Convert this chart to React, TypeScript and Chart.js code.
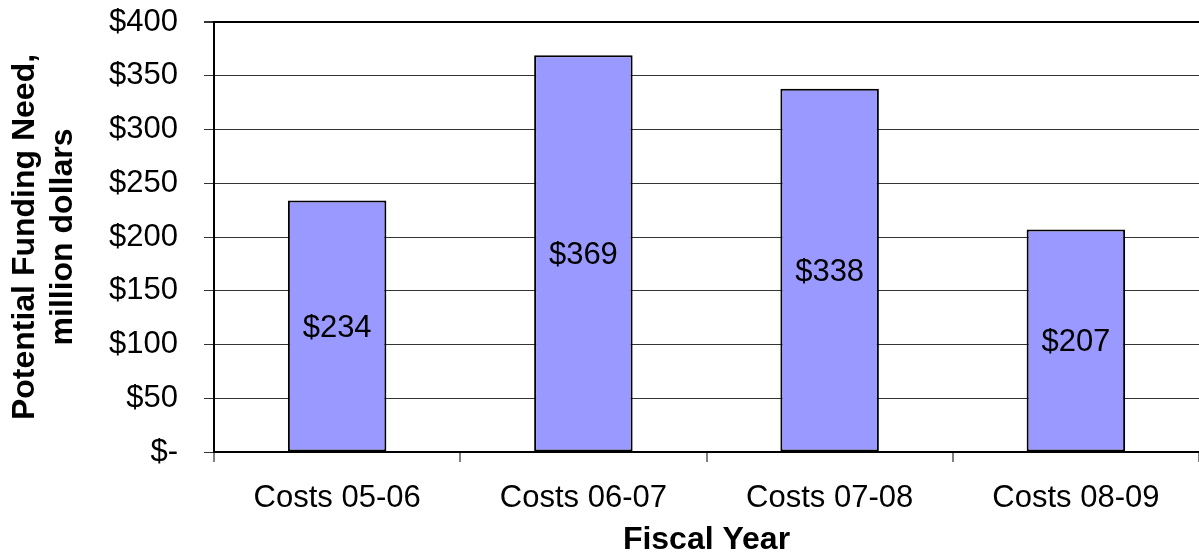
import React, { useEffect, useRef } from "react";
import { Chart, registerables } from "chart.js";

Chart.register(...registerables);

const categories: string[] = ["Costs 05-06", "Costs 06-07", "Costs 07-08", "Costs 08-09"];
const fundingNeed: number[] = [234, 369, 338, 207];
const yTickValues: number[] = [0, 50, 100, 150, 200, 250, 300, 350, 400];
const yTitleLines: string[] = ["Potential Funding Need,", "million dollars"];
const xTitle = "Fiscal Year";

const FONT = '"Liberation Sans", Arial, Helvetica, sans-serif';

const barLabelPlugin = {
  id: "barLabels",
  afterDatasetsDraw(chart: any) {
    const ctx = chart.ctx;
    const meta = chart.getDatasetMeta(0);
    ctx.save();
    ctx.font = `31px ${FONT}`;
    ctx.fillStyle = "#000";
    ctx.textAlign = "center";
    ctx.textBaseline = "middle";
    meta.data.forEach((bar: any, i: number) => {
      const v = chart.data.datasets[0].data[i];
      const cy = (bar.y + bar.base) / 2 + 2;
      ctx.fillText("$" + v, bar.x, cy);
    });
    ctx.restore();
  },
};

export default function App() {
  const canvasRef = useRef<HTMLCanvasElement | null>(null);

  useEffect(() => {
    document.body.style.margin = "0";
    const canvas = canvasRef.current;
    if (!canvas) return;
    const chart = new Chart(canvas, {
      type: "bar",
      data: {
        labels: categories,
        datasets: [
          {
            data: fundingNeed,
            backgroundColor: "#9999FF",
            borderColor: "#000000",
            borderWidth: 2,
            borderSkipped: false,
            categoryPercentage: 1,
            barPercentage: 0.4,
          },
        ],
      },
      options: {
        animation: false,
        responsive: true,
        maintainAspectRatio: false,
        layout: { padding: { top: 22, right: 0, left: 0, bottom: 0 } },
        plugins: {
          legend: { display: false },
          tooltip: { enabled: false },
        },
        scales: {
          x: {
            offset: true,
            grid: {
              display: true,
              offset: true,
              drawOnChartArea: false,
              drawTicks: true,
              tickLength: 10,
              color: "#808080",
              lineWidth: 2,
            },
            border: { display: true, color: "#000", width: 2 },
            ticks: {
              color: "#000",
              padding: 18,
              font: { family: FONT, size: 31 },
              maxRotation: 0,
              autoSkip: false,
            },
            title: {
              display: true,
              text: xTitle,
              color: "#000",
              font: { family: FONT, size: 32, weight: "bold" },
              padding: { top: 0, bottom: -2 },
            },
            afterFit(scale: any) {
              scale.height = 105;
              scale.paddingLeft = 0;
              scale.paddingRight = 0;
            },
          },
          y: {
            min: 0,
            max: 400,
            afterBuildTicks(scale: any) {
              scale.ticks = yTickValues.map((v) => ({ value: v }));
            },
            grid: {
              color: (c: any) => (c.tick && c.tick.value === 400 ? "#000" : "#333"),
              lineWidth: (c: any) => (c.tick && c.tick.value === 400 ? 2 : 1),
              tickColor: "#333",
              tickLength: 10,
              drawTicks: true,
            },
            border: { display: true, color: "#000", width: 2 },
            ticks: {
              color: "#000",
              padding: 26,
              font: { family: FONT, size: 31 },
              callback: (v: any) => (Number(v) === 0 ? "$-" : "$" + v),
            },
            title: {
              display: true,
              text: yTitleLines,
              color: "#000",
              font: { family: FONT, size: 32, weight: "bold" },
              padding: { top: 6, bottom: 0 },
            },
            afterFit(scale: any) {
              scale.width = 214;
              scale.paddingTop = 0;
              scale.paddingBottom = 0;
            },
          },
        },
      },
      plugins: [barLabelPlugin],
    });
    return () => chart.destroy();
  }, []);

  return (
    <div style={{ position: "absolute", left: 0, top: 0, width: 1199, height: 557 }}>
      <canvas ref={canvasRef} />
    </div>
  );
}
